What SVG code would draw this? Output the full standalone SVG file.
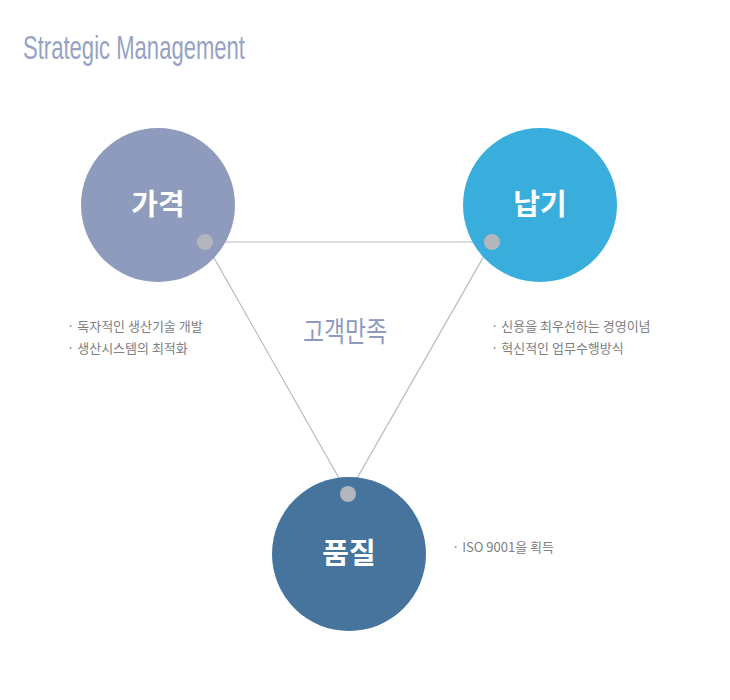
<svg xmlns="http://www.w3.org/2000/svg" width="730" height="700" viewBox="0 0 730 700">
<style>
.lbl{font-family:"Noto Sans CJK KR","Noto Sans",sans-serif;font-weight:700;font-size:29px;fill:#ffffff;text-anchor:middle}
.blt{font-family:"Noto Sans CJK KR","Noto Sans",sans-serif;font-size:13px;fill:#808080}
.ttl{font-family:"Liberation Sans",sans-serif;font-size:33px;fill:#97a3c3}
.dot{fill:#b3b6be}
.ln{stroke:#b8b9c0;stroke-width:1.2;fill:none}
</style>
<rect width="730" height="700" fill="#ffffff"/>
<g id="title">
<text class="ttl" x="23" y="59" textLength="222" lengthAdjust="spacingAndGlyphs">Strategic Management</text>
</g>
<g id="connectors">
<line class="ln" x1="205" y1="242" x2="492" y2="242"/>
<line class="ln" x1="205" y1="242" x2="348" y2="494"/>
<line class="ln" x1="492" y1="242" x2="348" y2="494"/>
</g>
<g id="node-price">
<circle cx="158" cy="205" r="77" fill="#8e9bbd"/>
<text class="lbl" x="158" y="215">가격</text>
<circle class="dot" cx="205" cy="242" r="8"/>
</g>
<g id="node-delivery">
<circle cx="540" cy="205" r="77" fill="#39aedc"/>
<text class="lbl" x="540" y="215">납기</text>
<circle class="dot" cx="492" cy="242" r="8"/>
</g>
<g id="node-quality">
<circle cx="349" cy="554" r="77" fill="#46749c"/>
<text class="lbl" x="349" y="564">품질</text>
<circle class="dot" cx="348" cy="494" r="8"/>
</g>
<g id="center">
<text x="303" y="342" font-family="Noto Sans CJK KR, sans-serif" font-size="28" fill="#8e9abd" textLength="84" lengthAdjust="spacingAndGlyphs">고객만족</text>
</g>
<g id="notes">
<text class="blt" x="67" y="331">· 독자적인 생산기술 개발</text>
<text class="blt" x="67" y="353">· 생산시스템의 최적화</text>
<text class="blt" x="491" y="331">· 신용을 최우선하는 경영이념</text>
<text class="blt" x="491" y="353">· 혁신적인 업무수행방식</text>
<text class="blt" x="452" y="552">· ISO 9001을 획득</text>
</g>
</svg>
